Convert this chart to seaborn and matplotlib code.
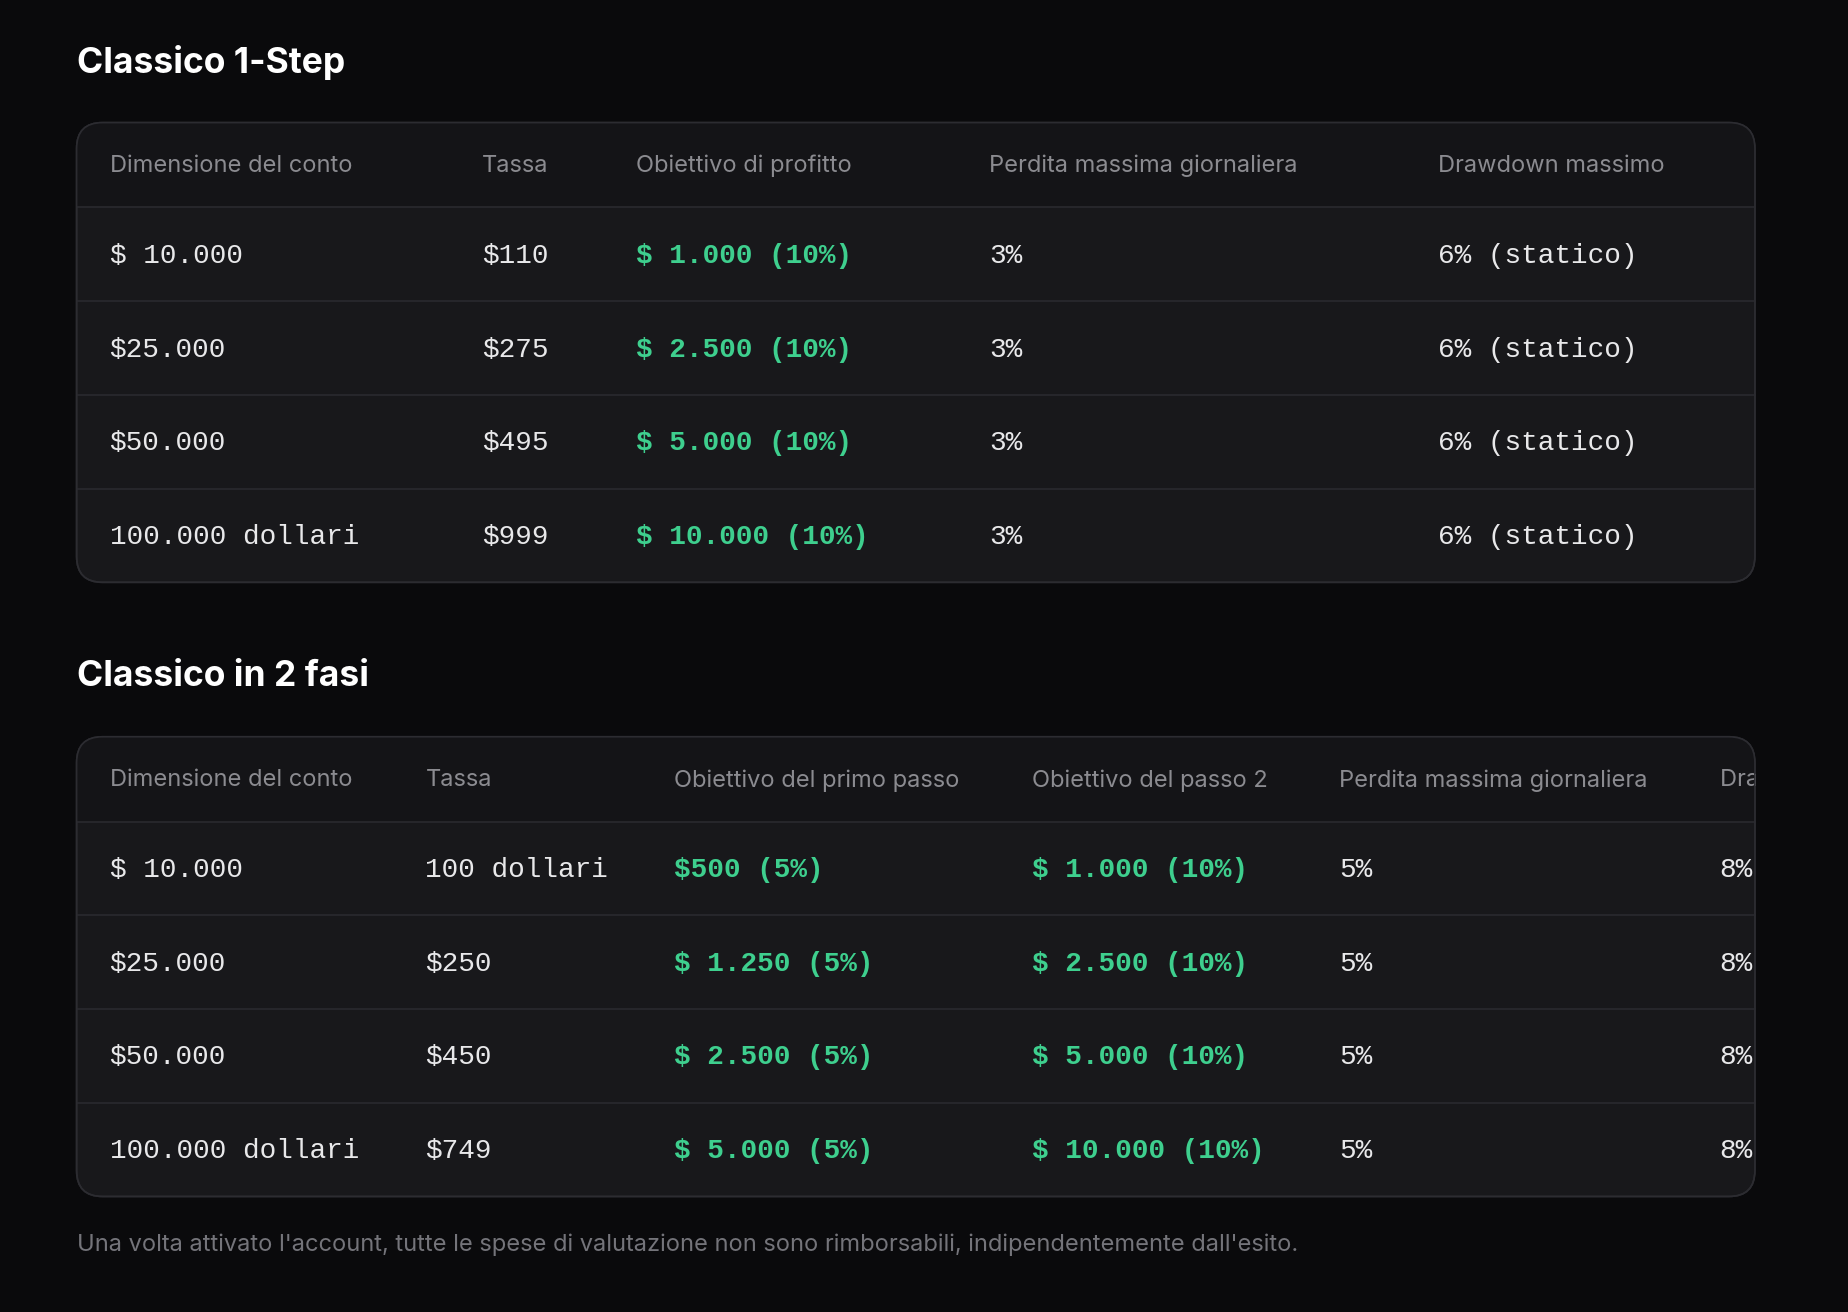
import matplotlib
matplotlib.use("Agg")
import matplotlib.pyplot as plt
import seaborn as sns
from matplotlib.patches import FancyBboxPatch, Rectangle

sns.set_theme(style="dark")
plt.rcParams['font.family'] = ['Inter', 'DejaVu Sans']

title1 = "Classico 1-Step"
headers1 = ["Dimensione del conto", "Tassa", "Obiettivo di profitto", "Perdita massima giornaliera", "Drawdown massimo"]
sizes1 = ["$ 10.000", "$25.000", "$50.000", "100.000 dollari"]
fees1 = ["$110", "$275", "$495", "$999"]
profit1 = ["$ 1.000 (10%)", "$ 2.500 (10%)", "$ 5.000 (10%)", "$ 10.000 (10%)"]
daily1 = ["3%", "3%", "3%", "3%"]
dd1 = ["6% (statico)", "6% (statico)", "6% (statico)", "6% (statico)"]

title2 = "Classico in 2 fasi"
headers2 = ["Dimensione del conto", "Tassa", "Obiettivo del primo passo", "Obiettivo del passo 2", "Perdita massima giornaliera", "Drawdown massimo"]
sizes2 = ["$ 10.000", "$25.000", "$50.000", "100.000 dollari"]
fees2 = ["100 dollari", "$250", "$450", "$749"]
step1 = ["$500 (5%)", "$ 1.250 (5%)", "$ 2.500 (5%)", "$ 5.000 (5%)"]
step2 = ["$ 1.000 (10%)", "$ 2.500 (10%)", "$ 5.000 (10%)", "$ 10.000 (10%)"]
daily2 = ["5%", "5%", "5%", "5%"]
dd2 = ["8%", "8%", "8%", "8%"]

footnote = "Una volta attivato l'account, tutte le spese di valutazione non sono rimborsabili, indipendentemente dall'esito."

BG = "#0a0a0c"; TB = "#18181b"; HB = "#141417"; LINE = "#2a2a2f"
HEAD = "#8b8b90"; WHITE = "#e8e8ea"; GREEN = "#3ecf8e"
MONO = ['Liberation Mono', 'DejaVu Sans Mono']

fig = plt.figure(figsize=(18.48, 13.12), dpi=100, facecolor=BG)
ax = fig.add_axes([0, 0, 1, 1])
ax.set_xlim(0, 1568); ax.set_ylim(1113, 0); ax.axis('off'); ax.set_facecolor(BG)

def table(title, ty, top, headers, cols, colx, greens):
    ax.text(65, ty, title, color="white", fontsize=25.5, fontweight="bold", va="center", ha="left")
    bottom = top + 72 + 4 * 79.5
    box = FancyBboxPatch((65, top), 1424, bottom - top, boxstyle="round,pad=0,rounding_size=22",
                         fc=TB, ec="#2c2c31", lw=1.2, zorder=1)
    ax.add_patch(box)
    hdr = ax.fill_between([65, 1489], top, top + 72, color=HB, lw=0, zorder=1.5)
    hdr.set_clip_path(box)
    for x, h in zip(colx, headers):
        ax.text(x, top + 37, h, color=HEAD, fontsize=17, va="center", ha="left", zorder=3)
    for r in range(4):
        y0 = top + 72 + r * 79.5
        ax.plot([65, 1489], [y0, y0], color=LINE, lw=1.2, zorder=2)
        for c, (x, col) in enumerate(zip(colx, cols)):
            ax.text(x, y0 + 41, col[r], color=GREEN if c in greens else WHITE,
                    fontsize=20, family=MONO, va="center", ha="left",
                    fontweight="bold" if c in greens else "normal", zorder=3)
    # mask overflow beyond the table's right edge
    ax.add_patch(Rectangle((1489.6, top - 2), 100, bottom - top + 4, fc=BG, ec="none", zorder=5))
    ax.add_patch(FancyBboxPatch((65, top), 1424, bottom - top, boxstyle="round,pad=0,rounding_size=22",
                                fc="none", ec="#2c2c31", lw=1.2, zorder=6))

table(title1, 53, 104, headers1, [sizes1, fees1, profit1, daily1, dd1], [93, 409, 540, 839, 1220], {2})
table(title2, 574, 625, headers2, [sizes2, fees2, step1, step2, daily2, dd2], [93, 361, 572, 876, 1136, 1459], {2, 3})
ax.text(65, 1056, footnote, color="#74747a", fontsize=17, va="center", ha="left")

fig.savefig("out.png", dpi=100, facecolor=BG)
